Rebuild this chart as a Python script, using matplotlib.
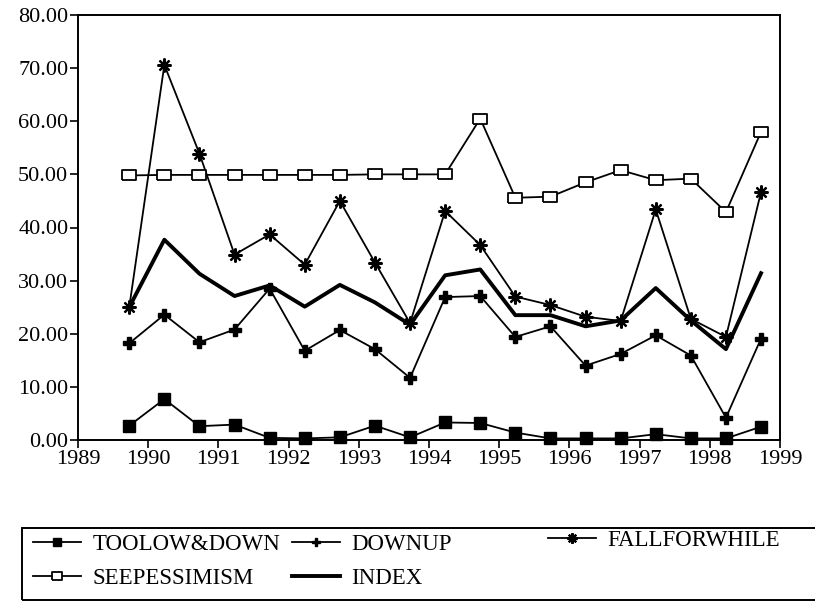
import matplotlib.pyplot as plt
from matplotlib.patches import Rectangle

# half-year survey dates
dates = [1989.73, 1990.23, 1990.73, 1991.23, 1991.73, 1992.23, 1992.73,
         1993.23, 1993.73, 1994.23, 1994.73, 1995.23, 1995.73, 1996.23,
         1996.73, 1997.23, 1997.73, 1998.23, 1998.73]

toolow_down = [2.7, 7.7, 2.6, 2.9, 0.4, 0.3, 0.5, 2.7, 0.5, 3.3,
               3.2, 1.4, 0.3, 0.3, 0.3, 1.1, 0.3, 0.3, 2.5]
downup = [18.2, 23.6, 18.4, 20.8, 28.5, 16.8, 20.7, 17.1, 11.7, 26.9,
          27.1, 19.4, 21.4, 14.0, 16.2, 19.7, 15.9, 4.2, 19.1]
fallforwhile = [25.0, 70.6, 53.9, 34.9, 38.7, 33.0, 45.0, 33.4, 22.0, 43.1,
                36.7, 27.0, 25.4, 23.2, 22.4, 43.4, 22.8, 19.4, 46.7]
seepessimism = [49.8, 49.9, 49.9, 49.9, 49.9, 49.9, 49.9, 50.0, 50.0, 50.0,
                60.5, 45.6, 45.8, 48.5, 50.8, 48.9, 49.2, 42.9, 58.0]
index = [25.0, 37.7, 31.3, 27.1, 29.1, 25.1, 29.2, 25.9, 21.7, 31.0,
         32.1, 23.5, 23.5, 21.4, 22.5, 28.6, 22.5, 17.1, 31.4]

year_ticks = list(range(1989, 2000))
value_ticks = [0, 10, 20, 30, 40, 50, 60, 70, 80]

plt.rcParams['font.family'] = ['Liberation Serif', 'DejaVu Serif']

fig = plt.figure(figsize=(8.15, 6.06), dpi=100)
ax = fig.add_axes([78 / 815, 166 / 606, 702 / 815, 425 / 606])

rect_marker = [(-1, -0.72), (1, -0.72), (1, 0.72), (-1, 0.72), (-1, -0.72)]

l_idx, = ax.plot(dates, index, color='black', lw=2.8, label='INDEX', clip_on=False)
l_fall, = ax.plot(dates, fallforwhile, color='black', lw=1.3, marker=(8, 2, 0),
                  ms=10, mew=1.6, label='FALLFORWHILE', clip_on=False)
l_down, = ax.plot(dates, downup, color='black', lw=1.3, marker='P', ms=8,
                  label='DOWNUP', clip_on=False)
l_see, = ax.plot(dates, seepessimism, color='black', lw=1.3, marker=rect_marker,
                 ms=10, mfc='white', mec='black', mew=1.3,
                 label='SEEPESSIMISM', clip_on=False)
l_low, = ax.plot(dates, toolow_down, color='black', lw=1.3, marker='s', ms=8,
                 label='TOOLOW&DOWN', clip_on=False)

ax.set_xlim(1989, 1999)
ax.set_ylim(0, 80)
ax.set_xticks(year_ticks)
ax.set_xticklabels([str(y) for y in year_ticks])
ax.set_yticks(value_ticks)
ax.set_yticklabels(['%.2f' % v for v in value_ticks])
ax.tick_params(direction='out', length=6, width=1.2, labelsize=16, pad=1)
for s in ax.spines.values():
    s.set_linewidth(1.4)

# legend box runs off the right edge like the scan
fig.add_artist(Rectangle((22 / 815, 6 / 606), 1.0, 72 / 606,
                         transform=fig.transFigure, fill=False,
                         lw=1.4, ec='black'))

leg1 = fig.legend([l_low, l_see, l_down, l_idx],
                  ['TOOLOW&DOWN', 'SEEPESSIMISM', 'DOWNUP', 'INDEX'],
                  ncol=2, loc='upper left', bbox_to_anchor=(33 / 815, 1 - 534 / 606),
                  frameon=False, fontsize=16.5, handlelength=2.1, markerscale=0.75,
                  handletextpad=0.5, columnspacing=0.5, labelspacing=0.55,
                  borderpad=0, borderaxespad=0)
leg2 = fig.legend([l_fall], ['FALLFORWHILE'],
                  loc='upper left', bbox_to_anchor=(548 / 815, 1 - 530 / 606),
                  frameon=False, fontsize=16.5, handlelength=2.1, markerscale=0.75,
                  handletextpad=0.5, borderpad=0, borderaxespad=0)

fig.savefig('out.png', dpi=100)
